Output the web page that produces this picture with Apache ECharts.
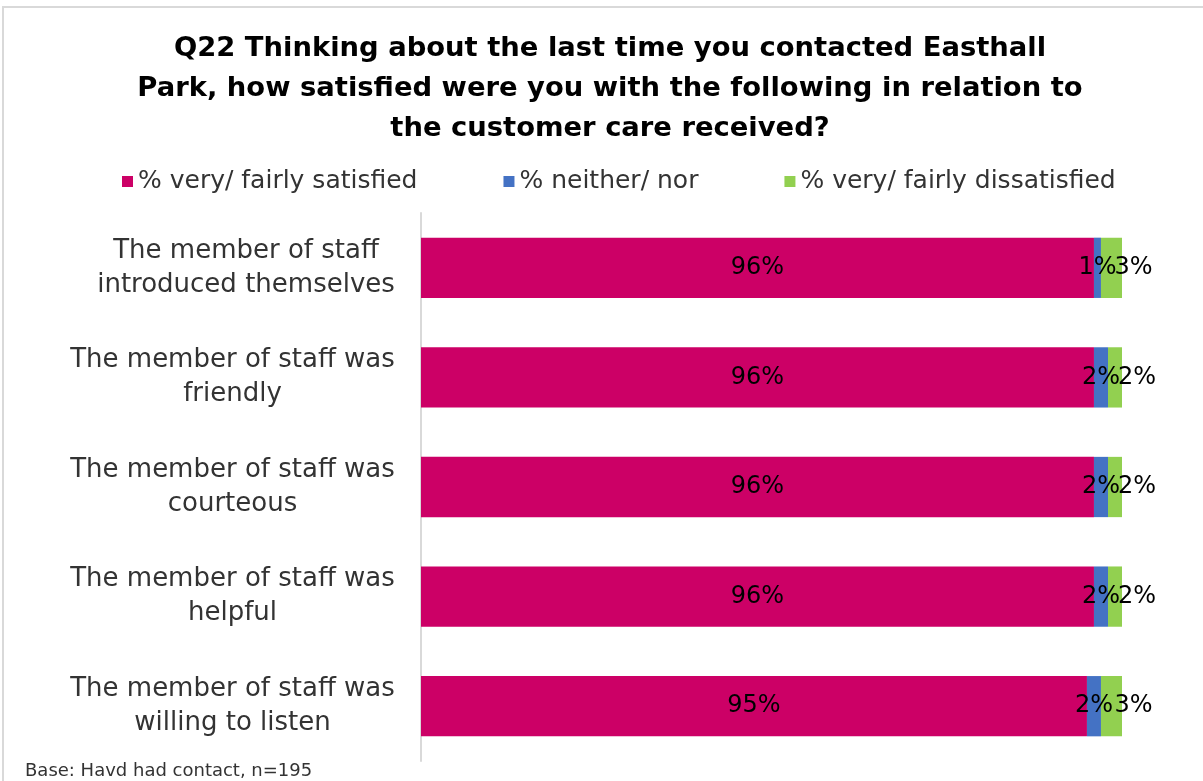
<!DOCTYPE html>
<html>
<head>
<meta charset="utf-8">
<script src="https://cdn.jsdelivr.net/npm/echarts@6/dist/echarts.min.js"></script>
<style>
  html, body { margin: 0; padding: 0; background: #fff; }
  #chart { width: 1203px; height: 781px; }
</style>
</head>
<body>
<div id="chart"></div>
<script>
// Survey statements (top to bottom)
const categories = [
  'The member of staff\nintroduced themselves',
  'The member of staff was\nfriendly',
  'The member of staff was\ncourteous',
  'The member of staff was\nhelpful',
  'The member of staff was\nwilling to listen'
];
const seriesNames = ['% very/ fairly satisfied', '% neither/ nor', '% very/ fairly dissatisfied'];
const satisfied = [96, 96, 96, 96, 95];
const neither = [1, 2, 2, 2, 2];
const dissatisfied = [3, 2, 2, 2, 3];

const colors = ['#CC0066', '#4472C4', '#92D050'];
const bodyFont = 'DejaVu Sans';
const catFontSize = 26;

// Category labels: block right-aligned to the axis, lines centred within the block.
const measureCtx = document.createElement('canvas').getContext('2d');
measureCtx.font = catFontSize + 'px "' + bodyFont + '"';
const catRich = {};
categories.forEach(function (c, i) {
  const w = Math.max.apply(null, c.split('\n').map(function (l) { return measureCtx.measureText(l).width; }));
  catRich['c' + i] = {
    width: Math.ceil(w),
    align: 'center',
    fontFamily: bodyFont,
    fontSize: catFontSize,
    lineHeight: 34,
    color: '#333'
  };
});

function barSeries(name, data, color, labelOffset) {
  return {
    name: name,
    type: 'bar',
    stack: 'total',
    barWidth: '55%',
    data: data,
    itemStyle: { color: color },
    label: {
      show: true,
      position: 'inside',
      offset: labelOffset,
      formatter: '{c}%',
      color: '#000',
      fontFamily: bodyFont,
      fontSize: 24
    }
  };
}

const chart = echarts.init(document.getElementById('chart'));
chart.setOption({
  animation: false,
  backgroundColor: '#fff',
  title: {
    text: 'Q22 Thinking about the last time you contacted Easthall\nPark, how satisfied were you with the following in relation to\nthe customer care received?',
    left: 605,
    top: 24,
    textAlign: 'center',
    textStyle: {
      fontFamily: 'DejaVu Sans',
      fontWeight: 'bold',
      fontSize: 27.4,
      lineHeight: 40,
      color: '#000'
    }
  },
  legend: {
    top: 164,
    left: 117,
    itemWidth: 11,
    itemHeight: 11,
    itemGap: 86,
    icon: 'rect',
    data: seriesNames,
    textStyle: { fontFamily: bodyFont, fontSize: 25, color: '#333' }
  },
  grid: { left: 421, right: 81, top: 213, bottom: 20, containLabel: false },
  xAxis: {
    type: 'value',
    min: 0,
    max: 100,
    show: false
  },
  yAxis: {
    type: 'category',
    inverse: true,
    data: categories,
    axisLine: { show: true, lineStyle: { color: '#d9d9d9', width: 2 } },
    axisTick: { show: false },
    axisLabel: {
      margin: 26,
      align: 'right',
      formatter: function (value, index) {
        return value.split('\n').map(function (l) { return '{c' + index + '|' + l + '}'; }).join('\n');
      },
      rich: catRich
    }
  },
  series: [
    barSeries(seriesNames[0], satisfied, colors[0], [0, 0]),
    barSeries(seriesNames[1], neither, colors[1], [0, 0]),
    barSeries(seriesNames[2], dissatisfied, colors[2], [22, 0])
  ],
  graphic: [
    {
      type: 'rect',
      shape: { x: 3, y: 7, width: 1220, height: 800 },
      style: { fill: 'none', stroke: '#d9d9d9', lineWidth: 2 },
      silent: true
    },
    {
      type: 'text',
      left: 25,
      top: 762,
      style: { text: 'Base: Havd had contact, n=195', font: '18px "DejaVu Sans"', fill: '#333' }
    }
  ]
});
</script>
</body>
</html>
